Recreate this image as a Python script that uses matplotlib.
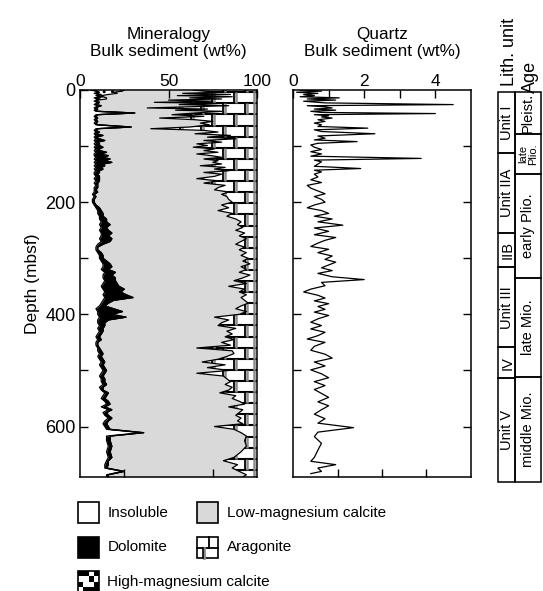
import matplotlib
matplotlib.use('Agg')
import matplotlib.pyplot as plt
import numpy as np
from matplotlib.patches import Polygon, Rectangle
from matplotlib.collections import LineCollection
from matplotlib.ticker import FixedLocator

plt.rcParams['font.family'] = ['Liberation Sans', 'DejaVu Sans']

# bulk mineralogy (wt%) vs depth (mbsf); low-Mg calcite is the remainder
min_depth = [0, 2, 4, 6, 8, 10, 12, 14, 16, 18, 20, 22, 24, 26, 28, 30, 32, 34, 36, 38,
             41, 44, 47, 50, 53, 56, 59, 62, 66, 69, 72, 75, 78, 81, 84, 87, 90, 93, 96, 99,
             102, 105, 108, 111, 114, 117, 120, 123, 126, 129, 132, 135, 138, 141, 144, 147,
             150, 154, 158, 162, 166, 170, 174, 178, 182, 186, 190, 195, 200,
             205, 210, 215, 220, 225, 230, 235, 240, 245, 250, 255, 260, 265, 270, 275, 280,
             285, 290, 295, 300, 305, 310, 315, 320, 325, 330, 335, 340, 345, 350, 355, 360,
             365, 370, 375, 380, 385, 390, 395, 400, 405, 410, 415, 420, 425, 430, 435, 440,
             445, 450, 455, 460, 465, 470, 475, 480, 485, 490, 495, 500, 505, 510, 515, 520,
             525, 530, 535, 540, 545, 550, 555, 560, 565, 570, 575, 580, 585, 590, 595, 600,
             605, 611, 617, 625, 635, 645, 655, 661, 668, 674, 680, 686, 690]
insoluble = [6, 9, 10, 8, 11, 9, 12, 8, 10, 9, 8, 10, 9, 8, 11, 9, 8, 9, 8, 9,
             30, 9, 8, 9, 8, 9, 8, 9, 28, 9, 8, 9, 8, 9, 8, 9, 8, 9, 8, 9,
             8, 9, 8, 9, 8, 8, 9, 8, 9, 8, 9, 8, 9, 8, 9, 8,
             8, 9, 8, 9, 8, 9, 8, 8, 8, 7, 8, 7, 7,
             8, 9, 10, 10, 11, 11, 12, 11, 12, 11, 12, 12, 11, 12, 10, 9,
             9, 10, 11, 11, 12, 13, 13, 12, 14, 13, 13, 14, 13, 12, 13, 14,
             13, 14, 13, 12, 11, 9, 10, 10, 11, 10, 10, 11, 10, 11, 10, 9,
             10, 9, 9, 10, 10, 11, 10, 11, 12, 11, 12, 13, 12, 11, 12, 12,
             13, 11, 12, 14, 13, 12, 14, 15, 12, 16, 13, 14, 16, 14, 13, 14,
             15, 35, 15, 15, 16, 15, 16, 15, 14, 14, 24, 15, 15]
dolomite = [1, 1, 1, 1, 1, 1, 1, 1, 1, 1, 1, 1, 1, 1, 1, 1, 1, 1, 1, 1,
            1, 1, 1, 1, 1, 1, 1, 1, 1, 1, 1, 2, 1, 4, 1, 2, 6, 1, 3, 2,
            5, 2, 3, 6, 3, 8, 4, 9, 5, 10, 4, 6, 3, 5, 2, 3,
            2, 2, 3, 2, 2, 1, 2, 1, 2, 1, 1, 1, 1,
            1, 2, 2, 3, 2, 4, 3, 6, 3, 5, 6, 4, 7, 5, 3, 1,
            1, 2, 2, 2, 3, 4, 5, 4, 6, 5, 7, 6, 8, 10, 12, 9,
            13, 16, 6, 4, 3, 10, 14, 8, 15, 6, 4, 3, 3, 2, 2, 2,
            2, 1, 1, 1, 2, 2, 2, 2, 2, 2, 2, 2, 2, 2, 2, 2,
            2, 2, 1, 2, 2, 2, 2, 2, 2, 2, 2, 2, 2, 2, 2, 2,
            2, 1, 2, 2, 2, 2, 2, 1, 2, 1, 1, 1, 1]
hmc = [18, 14, 8, 12, 4, 2, 0, 6, 4, 0, 0, 0, 0, 0, 0, 0, 0, 0, 0, 0,
       0, 0, 0, 0, 0, 0, 0, 0, 0, 0, 0, 0, 0, 0, 0, 0, 0, 0, 0, 0,
       0, 0, 0, 0, 0, 0, 0, 0, 0, 0, 0, 0, 0, 0, 0, 0,
       0, 0, 0, 0, 0, 0, 0, 0, 0, 0, 0, 0, 0,
       0, 0, 0, 0, 0, 0, 0, 0, 0, 0, 0, 0, 0, 0, 0, 0,
       0, 0, 0, 0, 0, 0, 0, 0, 0, 0, 0, 0, 0, 0, 0, 0,
       0, 0, 0, 0, 0, 0, 0, 0, 0, 0, 0, 0, 0, 0, 0, 0,
       0, 0, 0, 0, 0, 0, 0, 0, 0, 0, 0, 0, 0, 0, 0, 0,
       0, 0, 0, 0, 0, 0, 0, 0, 0, 0, 0, 0, 0, 0, 0, 0,
       0, 0, 0, 0, 0, 0, 0, 0, 0, 0, 0, 0, 0]
aragonite = [36, 30, 20, 42, 15, 45, 14, 38, 20, 50, 25, 58, 22, 44, 16, 40, 62, 28, 46, 20,
             35, 48, 30, 55, 35, 25, 32, 27, 38, 60, 30, 22, 35, 15, 28, 12, 30, 20, 34, 28,
             36, 24, 30, 22, 34, 26, 20, 30, 22, 25, 20, 32, 18, 24, 16, 30,
             20, 24, 34, 22, 30, 18, 22, 24, 16, 20, 17, 16, 14,
             20, 16, 22, 14, 17, 12, 9, 11, 8, 12, 7, 10, 6, 9, 12, 7,
             10, 6, 9, 5, 8, 4, 9, 6, 10, 4, 8, 13, 6, 16, 7, 10,
             6, 9, 7, 5, 9, 12, 6, 10, 24, 16, 20, 22, 12, 17, 14, 18,
             13, 20, 15, 34, 14, 13, 17, 22, 31, 18, 28, 16, 34, 19, 17, 15,
             18, 14, 16, 21, 12, 14, 10, 7, 16, 8, 10, 12, 9, 11, 8, 24,
             13, 9, 6, 7, 6, 9, 13, 19, 11, 14, 10, 6, 8]

# quartz (wt%) vs depth
qz_depth = [0, 2, 4, 6, 8, 10, 12, 14, 16, 18, 20, 23, 26, 28, 30, 32, 34, 36, 38, 40,
            42, 44, 46, 48, 50, 53, 56, 59, 62, 65, 68, 71, 74, 78, 82, 86, 89, 92, 95, 98,
            102, 106, 110, 114, 118, 122, 125, 128, 132, 136, 140, 143, 146, 150, 155, 160,
            165, 170, 175, 180, 185, 190, 195, 200, 205, 210, 215, 220, 225, 230, 235, 241,
            246, 252, 258, 263, 268, 273, 279, 284, 290, 296, 302, 307, 312, 317, 322, 327,
            333, 338, 343, 349, 355, 360, 366, 371, 376, 381, 386, 391, 396, 402, 408, 414,
            420, 426, 432, 438, 444, 450, 457, 464, 471, 478, 485, 492, 499, 506, 513, 520,
            527, 534, 541, 548, 556, 563, 570, 578, 586, 594, 602, 610, 618, 630, 642, 655,
            662, 668, 674, 680, 684]
quartz = [0.2, 0.8, 0.1, 0.7, 0.3, 0.6, 0.2, 1.3, 0.4, 1.2, 0.3, 0.9, 4.5, 0.4, 0.9, 1.1, 0.6, 1.2, 0.5, 0.8,
          4.0, 0.6, 1.0, 0.8, 1.1, 0.7, 0.9, 0.6, 0.8, 0.7, 2.1, 0.6, 0.8, 2.3, 0.7, 0.9, 0.6, 1.8, 0.7, 0.5,
          0.6, 0.8, 0.5, 0.8, 0.5, 3.6, 0.6, 0.8, 0.7, 0.6, 1.9, 0.6, 0.8, 0.6, 0.7, 0.5,
          0.8, 0.4, 0.5, 0.7, 0.9, 0.6, 0.8, 0.9, 0.6, 0.4, 0.8, 1.0, 0.6, 1.1, 0.7, 1.4,
          0.6, 1.0, 0.6, 1.2, 0.9, 0.7, 0.5, 1.0, 0.7, 1.1, 0.9, 1.2, 1.0, 0.8, 1.1, 0.7,
          1.1, 2.0, 0.8, 0.9, 0.5, 0.3, 0.7, 0.9, 0.6, 1.0, 0.7, 0.9, 0.6, 1.0, 0.7, 0.5,
          0.8, 0.5, 0.9, 0.7, 0.4, 0.9, 0.6, 0.5, 0.9, 1.1, 0.6, 0.9, 0.5, 0.8, 1.0, 0.6,
          0.9, 0.6, 0.8, 1.0, 0.7, 1.0, 0.8, 0.6, 0.9, 0.7, 1.7, 0.7, 0.6, 0.8, 0.7, 0.6,
          0.5, 1.2, 0.7, 0.8, 0.5]

# lithologic units and ages (top depth of each interval, mbsf)
lith_units = ['Unit I', 'Unit IIA', 'IIB', 'Unit III', 'IV', 'Unit V']
lith_tops = [0, 109, 252, 314, 457, 512]
age_names = ['Pleist.', 'late\nPlio.', 'early Plio.', 'late Mio.', 'middle Mio.']
age_tops = [0, 75, 146, 332, 510]
col_base = 698

W, H = 543, 591
fig = plt.figure(figsize=(W / 100, H / 100), dpi=100)


def px_axes(x0, y0, x1, y1):
    return fig.add_axes([x0 / W, 1 - y1 / H, (x1 - x0) / W, (y1 - y0) / H])


ax1 = px_axes(80, 90, 257, 477)
ax2 = px_axes(293, 90, 471, 477)
ax3 = px_axes(498, 92, 541, 482)

depth = np.array(min_depth, float)
b_ins = np.array(insoluble, float)
b_dol = b_ins + np.array(dolomite)
b_hmc = b_dol + np.array(hmc)
b_arag = 100 - np.array(aragonite, float)

gray = '#d9d9d9'
ax1.fill_betweenx(depth, b_hmc, b_arag, color=gray, lw=0)
ax1.fill_betweenx(depth, b_ins, b_dol, color='k', lw=0)
ax1.fill_betweenx(depth, b_dol, b_hmc, facecolor='white', edgecolor='k',
                  hatch='..', lw=0)

# aragonite: brick pattern clipped to its area
verts = list(zip(b_arag, depth)) + [(100, depth[-1]), (100, depth[0])]
arag = Polygon(verts, closed=True, facecolor='white', edgecolor='none')
ax1.add_patch(arag)
rows = np.arange(4 - 19.8, 700, 19.8)
hl = ax1.hlines(rows, 0, 100, colors='k', lw=1.5)
hl.set_clip_path(arag)
segs_k, segs_g = [], []
for i in range(len(rows) - 1):
    xs = [93.0, 80.8, 68.6, 56.4, 44.2] if i % 2 == 0 else [86.9, 74.7, 62.5, 50.3]
    for x in xs:
        segs_k.append([(x, rows[i]), (x, rows[i + 1])])
        segs_g.append([(x + 1.1, rows[i]), (x + 1.1, rows[i + 1])])
    segs_g.append([(98.4, rows[i]), (98.4, rows[i + 1])])
lc_g = LineCollection(segs_g, colors='#8c8c8c', lw=1.8)
lc_k = LineCollection(segs_k, colors='k', lw=1.3)
for lc in (lc_g, lc_k):
    ax1.add_collection(lc)
    lc.set_clip_path(arag)

for b in (b_ins, b_dol, b_hmc, b_arag):
    ax1.plot(b, depth, color='k', lw=0.9)

ax1.set_xlim(0, 100)
ax2.set_xlim(0, 5)
for ax in (ax1, ax2):
    ax.set_ylim(690, 0)
    ax.yaxis.set_major_locator(FixedLocator([0, 200, 400, 600]))
    ax.yaxis.set_minor_locator(FixedLocator([100, 300, 500]))
    ax.xaxis.tick_top()
    ax.tick_params(which='both', direction='in', length=6, width=1)
    ax.tick_params(axis='x', labelsize=12.5)
    ax.tick_params(axis='y', labelsize=13)
    for s in ax.spines.values():
        s.set_linewidth(1.1)

ax1.xaxis.set_major_locator(FixedLocator([0, 50, 100]))
ax1.xaxis.set_minor_locator(FixedLocator([25, 50, 75]))
ax1.tick_params(which='major', top=True, bottom=False, pad=1)
ax1.tick_params(which='minor', top=False, bottom=True)
ax1.tick_params(axis='y', which='both', left=True, right=False, pad=3)
ax1.set_ylabel('Depth (mbsf)', fontsize=12.5, labelpad=4)
ax1.set_title('Mineralogy\nBulk sediment (wt%)', fontsize=12.3, pad=13, linespacing=1.1)

ax2.xaxis.set_major_locator(FixedLocator([0, 1, 2, 3, 4]))
ax2.set_xticklabels(['0', '', '2', '', '4'])
ax2.xaxis.set_minor_locator(FixedLocator([1.25, 2.5, 3.75]))
ax2.tick_params(which='major', top=True, bottom=False, pad=1)
ax2.tick_params(which='minor', top=False, bottom=True)
ax2.tick_params(axis='y', which='both', left=True, right=True, labelleft=False)
ax2.yaxis.set_major_locator(FixedLocator([100, 200, 300, 400, 500, 600]))
ax2.yaxis.set_minor_locator(FixedLocator([]))
ax2.plot(quartz, qz_depth, color='k', lw=0.9)
ax2.set_title('Quartz\nBulk sediment (wt%)', fontsize=12.3, pad=13, linespacing=1.1)

# lithology / age columns
ax3.set_xlim(0, 1)
ax3.set_ylim(col_base, 0)
ax3.axis('off')
split = 0.395
bounds = lith_tops + [col_base]
for i, name in enumerate(lith_units):
    top, bot = bounds[i], bounds[i + 1]
    ax3.add_patch(Rectangle((0, top), split, bot - top, fill=False, lw=1.1, ec='k',
                            clip_on=False))
    ax3.text(split / 2 + 0.02, (top + bot) / 2, name, rotation=90, ha='center',
             va='center', fontsize=10.5)
bounds = age_tops + [col_base]
for i, name in enumerate(age_names):
    top, bot = bounds[i], bounds[i + 1]
    ax3.add_patch(Rectangle((split, top), 1 - split, bot - top, fill=False, lw=1.1,
                            ec='k', clip_on=False))
    fs = 8 if '\n' in name else 10.5
    ax3.text((1 + split) / 2, (top + bot) / 2, name, rotation=90, ha='center',
             va='center', fontsize=fs, linespacing=0.95)

# overlay for headers and legend, in pixel units
ov = fig.add_axes([0, 0, 1, 1])
ov.set_xlim(0, W)
ov.set_ylim(H, 0)
ov.axis('off')
ov.text(509, 86, 'Lith. unit', rotation=90, ha='center', va='bottom', fontsize=13)
ov.text(530, 93, 'Age', rotation=90, ha='center', va='bottom', fontsize=13)


def box(x, y, fc='white'):
    ov.add_patch(Rectangle((x, y), 21, 21, facecolor=fc, edgecolor='k', lw=1.2))


lfs = 11
box(78, 502)
ov.text(108, 513, 'Insoluble', va='center', fontsize=lfs)
box(197, 502, gray)
ov.text(227, 513, 'Low-magnesium calcite', va='center', fontsize=lfs)
box(78, 537, 'k')
ov.text(108, 547, 'Dolomite', va='center', fontsize=lfs)
box(197, 537)
ov.plot([197, 218], [547.5, 547.5], color='k', lw=1.3)
ov.plot([209, 209], [537, 547.5], color='k', lw=1.3)
ov.plot([204, 204], [547.5, 558], color='#8c8c8c', lw=2)
ov.plot([202.5, 202.5], [547.5, 558], color='k', lw=1.2)
ov.text(227, 547, 'Aragonite', va='center', fontsize=lfs)
box(78, 571)
cells = [(0, 0), (1, 0), (3, 0), (2, 1), (0, 2), (3, 2), (1, 3), (2, 3), (3, 3)]
for cx, cy in cells:
    ov.add_patch(Rectangle((78 + cx * 5.25, 571 + cy * 5.25), 5.25, 5.25, facecolor='k',
                           lw=0))
ov.text(107, 582, 'High-magnesium calcite', va='center', fontsize=lfs)

fig.savefig('out.png', dpi=100)
